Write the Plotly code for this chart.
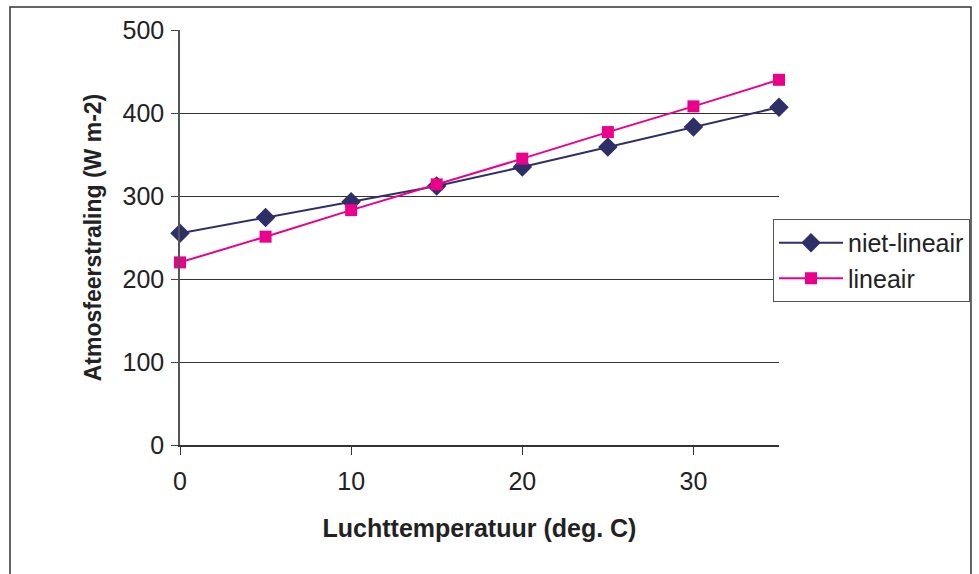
import plotly.graph_objects as go

# Air temperature (deg C) and atmospheric longwave radiation (W m-2)
temperatuur = [0, 5, 10, 15, 20, 25, 30, 35]
niet_lineair = [255, 274, 293, 312, 335, 359, 383, 407]
lineair = [220, 251, 283, 314, 345, 377, 408, 440]

x_ticks = [0, 10, 20, 30]
y_ticks = [0, 100, 200, 300, 400, 500]
y_grid = [100, 200, 300, 400]

FONT = "Liberation Sans, Arial, sans-serif"
TXT = "#222222"

fig = go.Figure()
fig.add_trace(go.Scatter(
    x=temperatuur, y=niet_lineair, name="niet-lineair",
    mode="lines+markers",
    line=dict(color="#2E2F66", width=2),
    marker=dict(symbol="diamond", size=15, color="#2E2F66"),
    cliponaxis=False,
))
fig.add_trace(go.Scatter(
    x=temperatuur, y=lineair, name="lineair",
    mode="lines+markers",
    line=dict(color="#EA008A", width=2),
    marker=dict(symbol="square", size=12, color="#EA008A"),
    cliponaxis=False,
))

fig.update_layout(
    width=979, height=574,
    margin=dict(l=180, r=200, t=30, b=129, autoexpand=False),
    paper_bgcolor="white", plot_bgcolor="white",
    font=dict(family=FONT, size=25, color=TXT),
    showlegend=True,
    legend=dict(
        x=0.99, y=0.5446, xanchor="left", yanchor="top",
        bgcolor="white", bordercolor="#555555", borderwidth=1,
        font=dict(family=FONT, size=25, color=TXT),
        itemwidth=64, tracegroupgap=0,
    ),
    xaxis=dict(
        range=[0, 35], tickvals=x_ticks, ticks="outside", ticklen=8,
        tickcolor="#333333", showline=True, linecolor="#333333", linewidth=1.5,
        showgrid=False, zeroline=False, ticklabelstandoff=5,
        tickfont=dict(family=FONT, size=25, color=TXT),
        title=dict(text="<b>Luchttemperatuur (deg. C)</b>",
                   font=dict(family=FONT, size=25, color=TXT), standoff=26),
    ),
    yaxis=dict(
        range=[0, 500], tickvals=y_ticks, ticks="outside", ticklen=7,
        tickcolor="#444444", showline=True, linecolor="#555555", linewidth=1.5,
        showgrid=False, zeroline=False, ticklabelstandoff=2,
        minor=dict(tickmode="array", tickvals=y_grid, showgrid=True,
                   gridcolor="#333333", gridwidth=1, ticks=""),
        tickfont=dict(family=FONT, size=25, color=TXT),
        title=dict(text="<b>Atmosfeerstraling (W m-2)</b>",
                   font=dict(family=FONT, size=23, color=TXT), standoff=14),
    ),
)

# Chart frame around the whole figure
fig.add_shape(type="rect", xref="paper", yref="paper",
              x0=-0.2838, x1=1.3205, y0=-0.40, y1=1.0554,
              line=dict(color="#333333", width=1.5), layer="below")

fig.write_html("out.html")
